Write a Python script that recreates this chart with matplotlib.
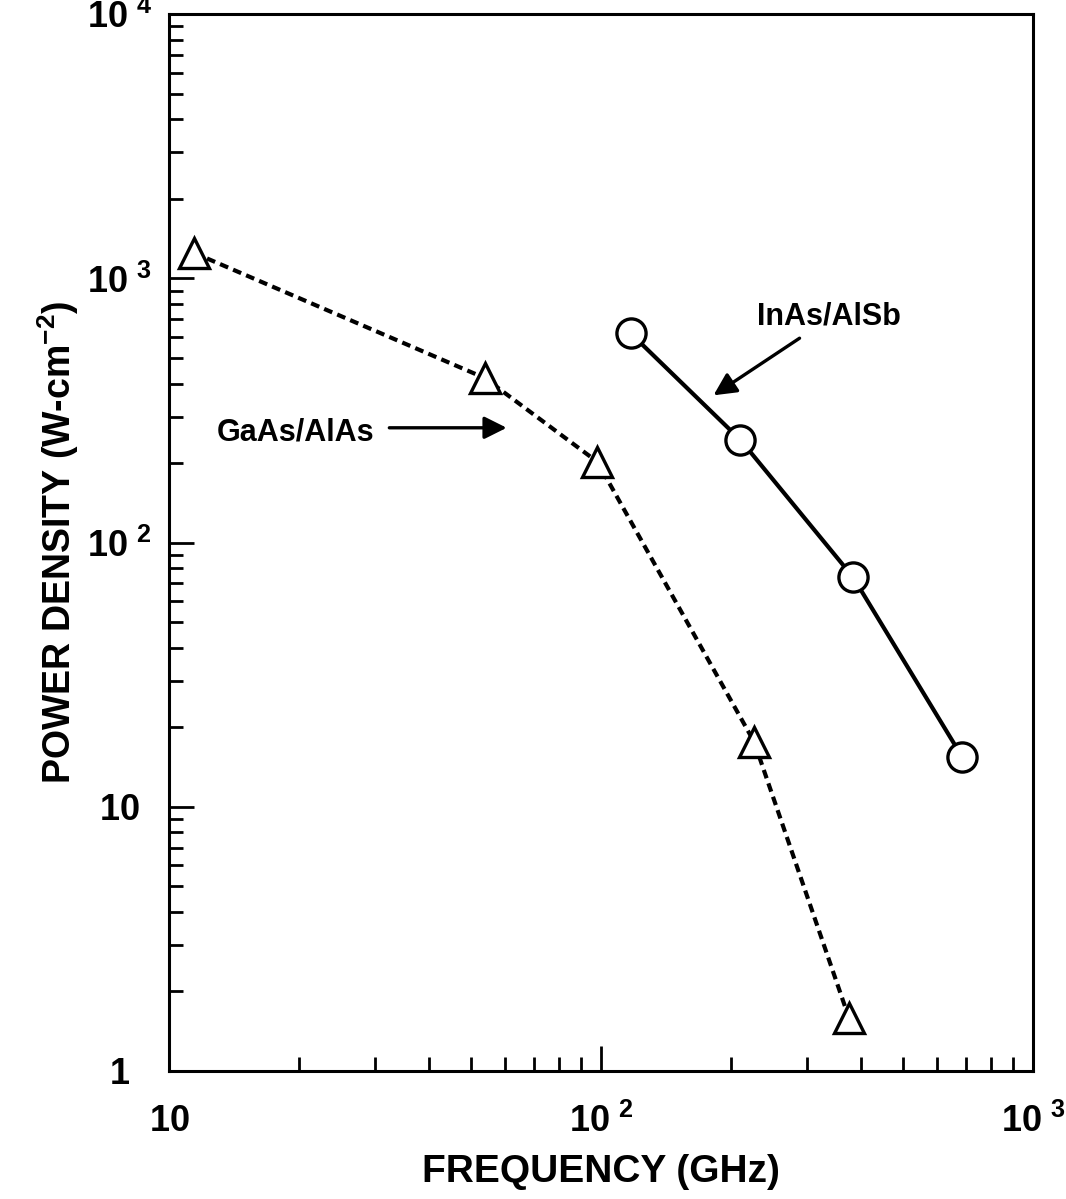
import matplotlib
matplotlib.use("Agg")
import matplotlib.pyplot as plt
from matplotlib.ticker import FixedLocator, FixedFormatter, LogLocator, NullFormatter

# ── Data ─────────────────────────────────────────────────────────────────────
gaas_freq  = [11.4, 53.7, 98.0, 226.0, 375.0]     # GHz
gaas_power = [1250.0, 420.0, 202.0, 17.6, 1.58]   # W/cm^2

inas_freq  = [117.0, 210.0, 383.0, 686.0]
inas_power = [620.0, 245.0, 74.0, 15.4]

x_ticks  = [10, 100, 1000]
x_labels = [r"$10$", r"$10^{\ 2}$", r"$10^{\ 3}$"]
y_ticks  = [1, 10, 100, 1000, 10000]
y_labels = [r"$1$", r"$10$", r"$10^{\ 2}$", r"$10^{\ 3}$", r"$10^{\ 4}$"]

# ── Style ────────────────────────────────────────────────────────────────────
plt.rcParams["font.family"] = ["Liberation Sans", "DejaVu Sans"]
plt.rcParams["font.weight"] = "bold"
plt.rcParams["mathtext.fontset"] = "custom"
plt.rcParams["mathtext.rm"] = "Liberation Sans:bold"
plt.rcParams["mathtext.default"] = "regular"

fig = plt.figure(figsize=(10.66, 11.99), dpi=100)
ax = fig.add_axes([0.159, 0.107, 0.81, 0.881])

ax.plot(gaas_freq, gaas_power, color="black", lw=3.0, linestyle=(0, (2.1, 1.3)),
        marker="^", ms=22, mfc="white", mec="black", mew=2.4)
ax.plot(inas_freq, inas_power, color="black", lw=3.0, linestyle="-",
        marker="o", ms=21, mfc="white", mec="black", mew=2.4)

ax.set_xscale("log")
ax.set_yscale("log")
ax.set_xlim(10, 1000)
ax.set_ylim(1, 10000)

ax.xaxis.set_major_locator(FixedLocator(x_ticks))
ax.xaxis.set_major_formatter(FixedFormatter(x_labels))
ax.yaxis.set_major_locator(FixedLocator(y_ticks))
ax.yaxis.set_major_formatter(FixedFormatter(y_labels))
ax.xaxis.set_minor_locator(LogLocator(base=10, subs=range(2, 10)))
ax.yaxis.set_minor_locator(LogLocator(base=10, subs=range(2, 10)))
ax.xaxis.set_minor_formatter(NullFormatter())
ax.yaxis.set_minor_formatter(NullFormatter())

ax.tick_params(which="both", direction="in", top=False, right=False, width=2, labelsize=26)
ax.tick_params(which="major", length=18)
ax.tick_params(which="minor", length=10)
ax.tick_params(axis="x", which="major", pad=24)
ax.tick_params(axis="y", which="major", pad=36)
for lab in ax.get_yticklabels():
    lab.set_horizontalalignment("center")

for sp in ax.spines.values():
    sp.set_linewidth(2.2)

ax.set_xlabel("FREQUENCY (GHz)", fontsize=28, fontweight="bold", labelpad=10)
ax.set_ylabel(r"POWER DENSITY (W-cm$^{-2}$)", fontsize=27, fontweight="bold", labelpad=4)

# ── Annotations ──────────────────────────────────────────────────────────────
arrow = dict(arrowstyle="-|>", color="black", lw=2.4, mutation_scale=34,
             shrinkA=0, shrinkB=0)
ax.text(29.8, 262, "GaAs/AlAs", fontsize=22, fontweight="bold",
        ha="right", va="center")
ax.annotate("", xy=(60.4, 272), xytext=(32.3, 272), arrowprops=arrow)

ax.text(337, 719, "InAs/AlSb", fontsize=22, fontweight="bold",
        ha="center", va="center")
ax.annotate("", xy=(182, 361), xytext=(288, 594), arrowprops=arrow)

fig.savefig("out.png", dpi=100)
